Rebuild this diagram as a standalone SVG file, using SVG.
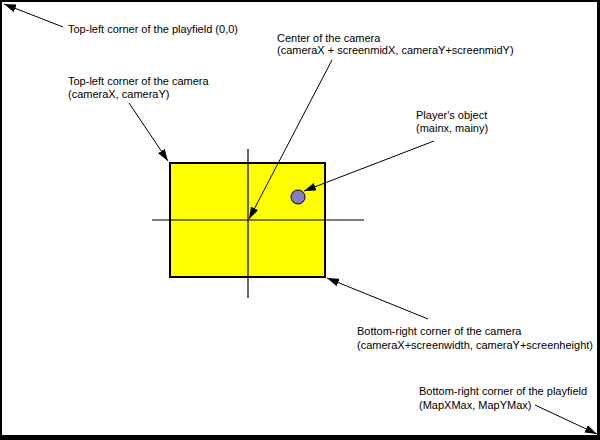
<svg xmlns="http://www.w3.org/2000/svg" width="600" height="440" viewBox="0 0 600 440">
<style>
text{font-family:"Liberation Sans",Arial,sans-serif;font-size:11px;fill:#000}
.c{stroke:#000;stroke-width:1;fill:none;marker-end:url(#ah)}
.x{stroke:#000;stroke-width:1.2}
</style>
<defs>
<marker id="ah" viewBox="0 0 12 8" refX="12" refY="4" markerWidth="12" markerHeight="8" markerUnits="userSpaceOnUse" orient="auto">
<path d="M0,0 L12,4 L0,8 Z" fill="#000"/>
</marker>
</defs>
<rect x="0" y="0" width="600" height="440" fill="#000"/>
<rect x="2" y="2" width="595" height="433" fill="#fff"/>
<g id="camera">
<rect x="170" y="163" width="155" height="114" fill="#ffff00" stroke="#000" stroke-width="2"/>
<line class="x" x1="248" y1="149" x2="248" y2="298"/>
<line class="x" x1="152" y1="220" x2="364" y2="220"/>
</g>
<g id="player">
<circle cx="298" cy="197" r="7" fill="#8080c0" stroke="#000" stroke-width="1"/>
</g>
<g id="connectors">
<line class="c" x1="63" y1="27" x2="4" y2="4"/>
<line class="c" x1="129" y1="103" x2="168" y2="161"/>
<line class="c" x1="332" y1="60" x2="249" y2="219"/>
<line class="c" x1="434" y1="141" x2="304" y2="191"/>
<line class="c" x1="428" y1="319" x2="327" y2="278"/>
<line class="c" x1="535" y1="405" x2="597" y2="434"/>
</g>
<g id="label-playfield-tl">
<text x="68" y="33">Top-left corner of the playfield (0,0)</text>
</g>
<g id="label-camera-tl">
<text x="68" y="85">Top-left corner of the camera</text>
<text x="68" y="98">(cameraX, cameraY)</text>
</g>
<g id="label-center">
<text x="277" y="42">Center of the camera</text>
<text x="277" y="54">(cameraX + screenmidX, cameraY+screenmidY)</text>
</g>
<g id="label-player">
<text x="416" y="119">Player's object</text>
<text x="416" y="132">(mainx, mainy)</text>
</g>
<g id="label-camera-br">
<text x="357" y="335">Bottom-right corner of the camera</text>
<text x="357" y="349">(cameraX+screenwidth, cameraY+screenheight)</text>
</g>
<g id="label-playfield-br">
<text x="419" y="395">Bottom-right corner of the playfield</text>
<text x="419" y="409">(MapXMax, MapYMax)</text>
</g>
</svg>
